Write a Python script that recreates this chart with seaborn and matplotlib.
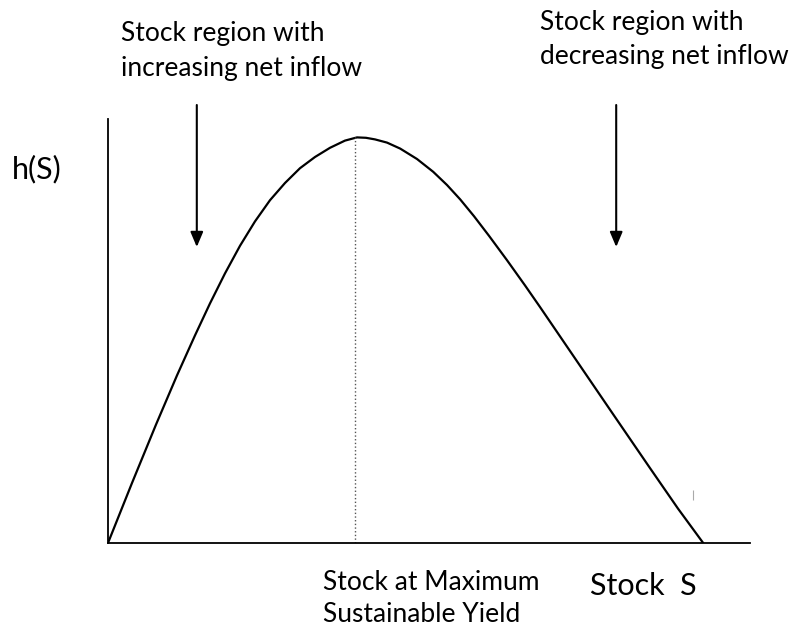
import matplotlib
matplotlib.use("Agg")
import matplotlib.pyplot as plt
import seaborn as sns
import pandas as pd

sns.set_style("white")
plt.rcParams['font.family'] = ['Lato', 'DejaVu Sans']

# growth curve h(S) (stock on 0..107, yield on 0..106)
stock = [0, 4, 8, 11.5, 14.5, 17, 19.5, 22, 24.5, 27, 29.5, 32, 34.5, 37,
         39.5, 41.5, 43, 44.5, 46.5, 48.7, 51.5, 54.2, 56.5, 58.7, 61, 63.5,
         66.5, 69.5, 72, 78, 84, 90.3, 95, 99.2]
harvest = [0, 15, 29.6, 41.9, 51.9, 59.9, 67.4, 74.3, 80.4, 85.7, 90, 93.7,
           96.5, 98.8, 100.6, 101.4, 101.3, 100.9, 100.1, 98.6, 96, 92.8,
           89.5, 85.9, 81.7, 76.8, 70.7, 64.4, 59, 45.8, 32.6, 18.8, 8.6, 0]

msy_stock = 41.2
msy_yield = 101.4

# arrows marking the two stock regions
arrow_stock = [14.8, 84.7]
arrow_top = [109.5, 109.5]
arrow_tip = [74, 74]

df = pd.DataFrame({'stock': stock, 'harvest': harvest})

fig = plt.figure(figsize=(8, 6.3), dpi=100)
ax = fig.add_axes([108 / 800, 87 / 630, 642 / 800, 424 / 630])

sns.lineplot(data=df, x='stock', y='harvest', sort=False, color='black',
             linewidth=1.6, ax=ax)
ax.lines[0].set_solid_joinstyle('round')

# dotted line at maximum sustainable yield
ax.vlines(msy_stock, 0, msy_yield, colors='#555555', linestyles=':', linewidth=1)

for s, top, tip in zip(arrow_stock, arrow_top, arrow_tip):
    ax.annotate('', xy=(s, tip), xytext=(s, top), annotation_clip=False,
                arrowprops=dict(arrowstyle='-|>,head_length=0.9,head_width=0.38',
                                color='black', lw=1.5, shrinkA=0, shrinkB=0))

# small stray mark near the right end of the curve
ax.vlines(97.5, 10.8, 13.2, colors='#aaaaaa', linewidth=0.8)

ax.set_xlim(0, 107)
ax.set_ylim(0, 106)
ax.set_xticks([])
ax.set_yticks([])
ax.set_xlabel('')
ax.set_ylabel('')
sns.despine(ax=ax)
for side in ['left', 'bottom']:
    ax.spines[side].set_color('black')
    ax.spines[side].set_linewidth(1.3)

txt = dict(color='black', fontsize=19, va='baseline', ha='left')
fig.text(121 / 800, 1 - 41 / 630, 'Stock region with', **txt)
fig.text(121 / 800, 1 - 76 / 630, 'increasing net inflow', **txt)
fig.text(540 / 800, 1 - 30 / 630, 'Stock region with', **txt)
fig.text(540 / 800, 1 - 64 / 630, 'decreasing net inflow', **txt)
fig.text(12 / 800, 1 - 178 / 630, 'h(S)', color='black', fontsize=22,
         va='baseline', ha='left')
fig.text(323 / 800, 1 - 590 / 630, 'Stock at Maximum', **txt)
fig.text(323 / 800, 1 - 622 / 630, 'Sustainable Yield', **txt)
fig.text(590 / 800, 1 - 595 / 630, 'Stock  S', color='black', fontsize=22,
         va='baseline', ha='left')

fig.savefig('out.png', dpi=100, facecolor='white')
